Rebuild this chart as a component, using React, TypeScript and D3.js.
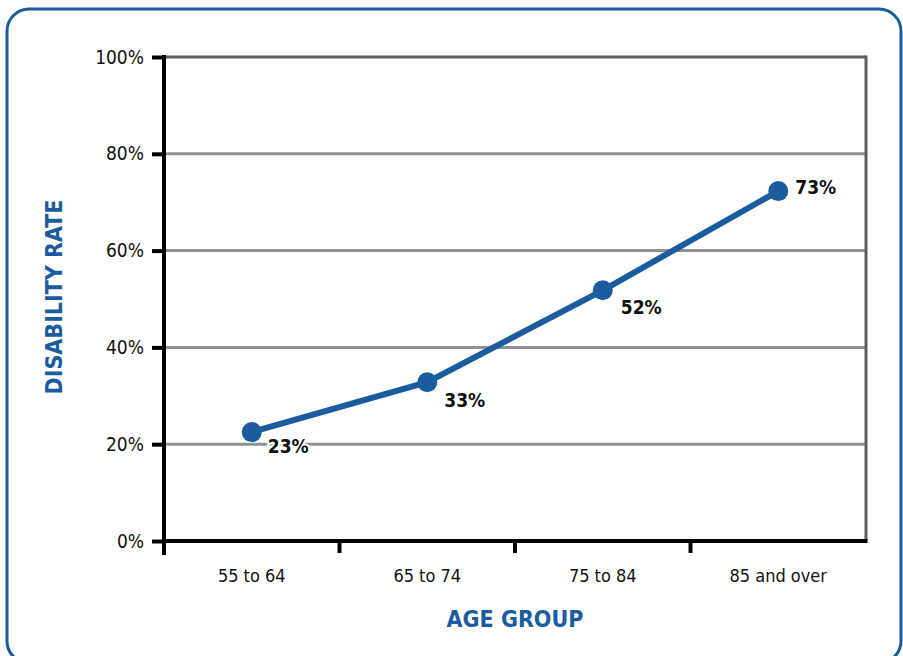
import React, { useEffect, useRef } from 'react';
import * as d3 from 'd3';

const ageGroups = ['55 to 64', '65 to 74', '75 to 84', '85 and over'];
const disabilityRates = [22.5, 32.8, 51.8, 72.3];
const rateLabels = ['23%', '33%', '52%', '73%'];
const yTicks = [0, 20, 40, 60, 80, 100];

const BLUE = '#1a5c9e';
const FONT = '"Liberation Sans Narrow", "DejaVu Sans Condensed", "Roboto", sans-serif';

export default function App() {
  const svgRef = useRef<SVGSVGElement>(null);

  useEffect(() => {
    if (!svgRef.current) return;
    const svg = d3.select(svgRef.current);
    svg.selectAll('*').remove();

    const width = 903;
    const height = 656;
    const margin = { top: 57, right: 37, bottom: 115, left: 164 };

    const x = d3.scaleBand<string>()
      .domain(ageGroups)
      .range([margin.left, width - margin.right]);

    const y = d3.scaleLinear()
      .domain([0, 100])
      .range([height - margin.bottom, margin.top]);

    // Outer rounded frame
    svg.append('rect')
      .attr('x', 7)
      .attr('y', 9)
      .attr('width', 894)
      .attr('height', 654)
      .attr('rx', 22)
      .attr('fill', 'white')
      .attr('stroke', BLUE)
      .attr('stroke-width', 3);

    // Gridlines
    svg.append('g')
      .selectAll('line')
      .data(yTicks.filter(t => t > 0))
      .enter().append('line')
      .attr('x1', margin.left)
      .attr('x2', width - margin.right)
      .attr('y1', d => y(d))
      .attr('y2', d => y(d))
      .attr('stroke', d => d === 100 ? '#5a5e63' : '#8f9295')
      .attr('stroke-width', 3);

    // Right border
    svg.append('line')
      .attr('x1', width - margin.right)
      .attr('x2', width - margin.right)
      .attr('y1', y(100) - 1.5)
      .attr('y2', y(0))
      .attr('stroke', '#5a5e63')
      .attr('stroke-width', 3);

    // Y axis
    const yAxis = svg.append('g')
      .attr('transform', `translate(${margin.left},0)`)
      .call(d3.axisLeft(y).tickValues(yTicks).tickSize(12).tickPadding(8).tickFormat(d => `${d}%`));
    yAxis.select('.domain')
      .attr('d', `M0,${y(100) - 2}V${y(0) + 14}`)
      .attr('stroke', '#000')
      .attr('stroke-width', 4);
    yAxis.selectAll('.tick line').attr('stroke', '#000').attr('stroke-width', 4);
    yAxis.selectAll('.tick text')
      .attr('font-family', FONT)
      .attr('font-size', 19)
      .attr('fill', '#111');

    // X axis
    const xAxis = svg.append('g')
      .attr('transform', `translate(0,${y(0)})`)
      .call(d3.axisBottom(x).tickSize(0).tickPadding(28));
    xAxis.select('.domain')
      .attr('d', `M${margin.left},0H${width - margin.right + 1.5}`)
      .attr('stroke', '#000')
      .attr('stroke-width', 4);
    xAxis.selectAll('.tick text')
      .attr('font-family', FONT)
      .attr('font-size', 18)
      .attr('fill', '#111');

    // Band boundary ticks
    svg.append('g')
      .selectAll('line')
      .data(ageGroups)
      .enter().append('line')
      .attr('x1', d => x(d) as number)
      .attr('x2', d => x(d) as number)
      .attr('y1', y(0))
      .attr('y2', y(0) + 12)
      .attr('stroke', '#000')
      .attr('stroke-width', 4);

    // Axis titles
    svg.append('text')
      .attr('x', x(ageGroups[1])! + x.bandwidth())
      .attr('y', 627)
      .attr('text-anchor', 'middle')
      .attr('font-family', FONT)
      .attr('font-weight', 'bold')
      .attr('font-size', 23)
      .attr('fill', BLUE)
      .text('AGE GROUP');

    svg.append('text')
      .attr('transform', `translate(62,${y(50) - 2}) rotate(-90)`)
      .attr('text-anchor', 'middle')
      .attr('font-family', FONT)
      .attr('font-weight', 'bold')
      .attr('font-size', 23)
      .attr('fill', BLUE)
      .text('DISABILITY RATE');

    const cx = (d: string) => (x(d) as number) + x.bandwidth() / 2;

    // Line
    const line = d3.line<number>()
      .x((_, i) => cx(ageGroups[i]))
      .y(d => y(d));

    svg.append('path')
      .datum(disabilityRates)
      .attr('fill', 'none')
      .attr('stroke', BLUE)
      .attr('stroke-width', 6)
      .attr('d', line);

    svg.append('g')
      .selectAll('circle')
      .data(disabilityRates)
      .enter().append('circle')
      .attr('cx', (_, i) => cx(ageGroups[i]))
      .attr('cy', d => y(d))
      .attr('r', 10)
      .attr('fill', BLUE);

    // Value labels
    const offsets = [[16, 14], [17, 18], [18, 17], [17, -4]];
    svg.append('g')
      .selectAll('text')
      .data(disabilityRates)
      .enter().append('text')
      .attr('x', (_, i) => cx(ageGroups[i]) + offsets[i][0])
      .attr('y', (d, i) => y(d) + offsets[i][1])
      .attr('dy', '0.35em')
      .attr('font-family', FONT)
      .attr('font-weight', 'bold')
      .attr('font-size', 19)
      .attr('fill', '#111')
      .attr('stroke', 'white')
      .attr('stroke-width', 4)
      .attr('paint-order', 'stroke')
      .text((_, i) => rateLabels[i]);
  }, []);

  return (
    <svg
      ref={svgRef}
      width={903}
      height={656}
      style={{ position: 'absolute', left: 0, top: 0, display: 'block' }}
    />
  );
}
